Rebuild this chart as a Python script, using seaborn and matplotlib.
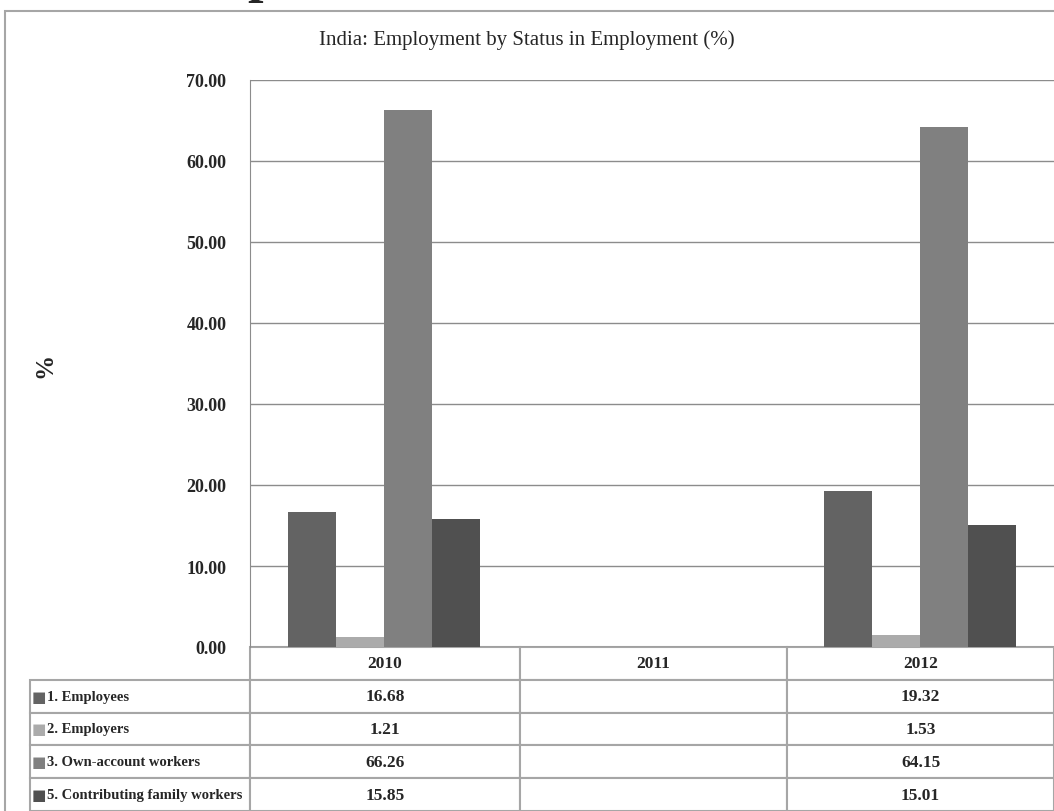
import numpy as np
import pandas as pd
import seaborn as sns
import matplotlib.pyplot as plt
from matplotlib.patches import Rectangle

# values (2011 has no data)
years = ["2010", "2011", "2012"]
statuses = ["1. Employees", "2. Employers", "3. Own-account workers",
            "5. Contributing family workers"]
employees = [16.68, np.nan, 19.32]
employers = [1.21, np.nan, 1.53]
own_account = [66.26, np.nan, 64.15]
family_workers = [15.85, np.nan, 15.01]
colors = ["#636363", "#ababab", "#808080", "#505050"]
yticks = [0, 10, 20, 30, 40, 50, 60, 70]

series = [employees, employers, own_account, family_workers]
df = pd.concat([
    pd.DataFrame({"year": years, "status": s, "value": v})
    for s, v in zip(statuses, series)
], ignore_index=True)

sns.set_style("white")
plt.rcParams["font.family"] = ["Liberation Serif", "DejaVu Sans"]

fig = plt.figure(figsize=(10.54, 8.12), dpi=100)
W, H = 1054, 812
# plot area in pixels: x 250..1054, y 81..648
ax = fig.add_axes([250 / W, 1 - 648 / H, 804 / W, (648 - 81) / H])

sns.barplot(data=df, x="year", y="value", hue="status", order=years,
            hue_order=statuses, palette=colors, width=0.72, saturation=1,
            errorbar=None, legend=False, ax=ax, linewidth=0)

ax.set_ylim(0, 70)
ax.set_xlim(-0.5, 2.5)
ax.set_yticks(yticks)
ax.set_yticklabels([f"{t:.2f}" for t in yticks], fontweight="bold", fontsize=13)
ax.set_xticks([])
ax.set_xlabel("")
ax.set_ylabel("")
ax.tick_params(axis="y", length=3, color="#8c8c8c", pad=14)
ax.yaxis.grid(True, color="#8c8c8c", linewidth=1)
ax.set_axisbelow(True)
for side in ["top", "right", "bottom"]:
    ax.spines[side].set_visible(False)
ax.spines["left"].set_color("#8c8c8c")

# data table under the plot
def fmt(v):
    return "" if np.isnan(v) else f"{v:.2f}"

cell_text = [[s] + [fmt(v) for v in vals] for s, vals in zip(statuses, series)]
label_w = 220 / 804
col_w = [label_w, 270 / 804, 267 / 804, 267 / 804]
tab_h = (812 - 648) / 567
tbl = ax.table(cellText=cell_text, colLabels=[""] + years, colWidths=col_w,
               bbox=[-label_w, -tab_h, sum(col_w), tab_h], cellLoc="center")
tbl.auto_set_font_size(False)
tbl.set_fontsize(12.5)
for (r, c), cell in tbl.get_celld().items():
    cell.set_edgecolor("#a6a6a6")
    cell.set_linewidth(1.5)
    cell.get_text().set_fontweight("bold")
    if r == 0 and c == 0:
        cell.visible_edges = ""
    if c == 0 and r > 0:
        cell.PAD = 0.075
        cell.get_text().set_fontsize(10.5)
        cell.get_text().set_ha("left")
        cell._loc = "left"

row_h = tab_h / 5
for i, col in enumerate(colors):
    ax.text((39 - 250) / 804, -(i + 1.5) * row_h, "\u25a0", color=col,
            fontsize=11, family="DejaVu Sans", ha="center", va="center",
            transform=ax.transAxes)

fig.text(527 / W, 1 - 40 / H, "India: Employment by Status in Employment (%)",
         ha="center", va="center", fontsize=15)
fig.text(45 / W, 1 - 365 / H, "%", rotation=90, ha="center", va="center",
         fontsize=18, fontweight="bold")
# clipped fragment of the slide heading above the chart
fig.text(263 / W, 1.011, "p", ha="center", va="baseline", fontsize=40,
         fontweight="bold")

fig.add_artist(Rectangle((5 / W, -0.01), 1.1, 1 - 12 / H + 0.01,
                         transform=fig.transFigure, fill=False,
                         edgecolor="#a6a6a6", linewidth=1.5))

fig.savefig("out.png", dpi=100)
